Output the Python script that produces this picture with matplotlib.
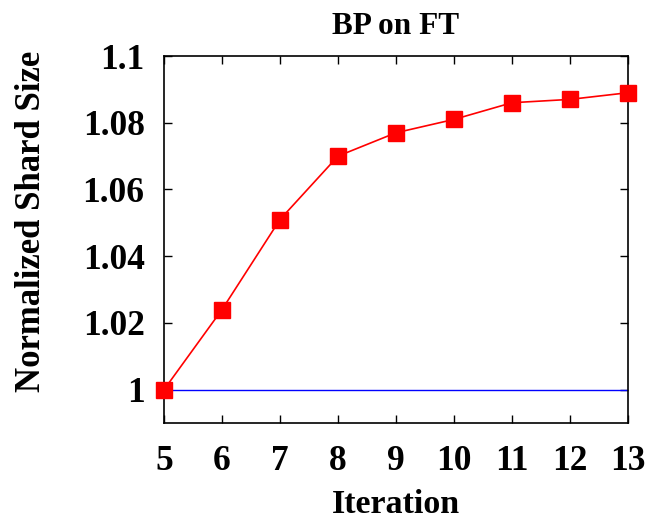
import matplotlib
matplotlib.use("Agg")
import matplotlib.pyplot as plt

iterations = [5, 6, 7, 8, 9, 10, 11, 12, 13]
shard_size = [1.000, 1.024, 1.051, 1.070, 1.077, 1.081, 1.086, 1.087, 1.089]
baseline = [1.0] * len(iterations)
yticks = [1.0, 1.02, 1.04, 1.06, 1.08, 1.1]
ytick_labels = ["1", "1.02", "1.04", "1.06", "1.08", "1.1"]

plt.rcParams['font.family'] = ['Liberation Serif', 'DejaVu Serif']
plt.rcParams['font.weight'] = 'bold'

fig = plt.figure(figsize=(6.54, 5.24), dpi=100)
ax = fig.add_axes([0.2508, 0.1927, 0.7094, 0.7004])

ax.plot(iterations, baseline, color='#0000ff', linewidth=1.0, zorder=2)
ax.plot(iterations, shard_size, color='#ff0000', linewidth=1.2, marker='s',
        markersize=11, markerfacecolor='#ff0000', markeredgecolor='#ff0000',
        zorder=3, clip_on=False)

ax.set_xlim(5, 13)
ax.set_ylim(0.99, 1.1)
ax.set_xticks(iterations)
ax.set_xticklabels([str(i) for i in iterations])
ax.set_yticks(yticks)
ax.set_yticklabels(ytick_labels)

ax.tick_params(direction='in', top=True, right=True, length=6, width=1,
               labelsize=25.5)
ax.tick_params(axis='x', pad=16)
ax.tick_params(axis='y', pad=14)
for lbl in ax.get_xticklabels() + ax.get_yticklabels():
    lbl.set_fontweight('bold')
for s in ax.spines.values():
    s.set_linewidth(1.2)

ax.set_xlabel('Iteration', fontsize=24.5, fontweight='bold', labelpad=8)
ax.set_ylabel('Normalized Shard Size', fontsize=25, fontweight='bold')
ax.yaxis.set_label_coords(-0.25, 0.549)
ax.set_title('BP on FT', fontsize=22.5, fontweight='bold', pad=16)

fig.savefig('out.png', dpi=100)
